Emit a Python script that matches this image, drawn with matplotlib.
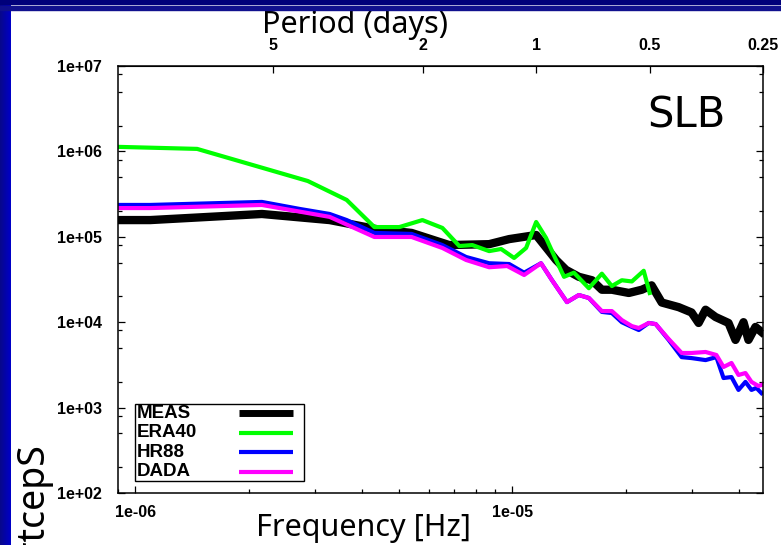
import numpy as np
import matplotlib
matplotlib.use("Agg")
import matplotlib.pyplot as plt
from matplotlib.ticker import LogLocator, FuncFormatter, NullFormatter, NullLocator, FixedLocator, FixedFormatter
from matplotlib.patches import Rectangle
from matplotlib.lines import Line2D
from matplotlib.colors import LinearSegmentedColormap

# ---------------- data (frequency in Hz, spectral value) ----------------
meas_freq = [9.02e-7, 1.096e-6, 2.168e-6, 3.28e-6, 4.37e-6, 5.41e-6, 6.81e-6, 8.69e-6, 9.82e-6,
             1.158e-5, 1.308e-5, 1.390e-5, 1.503e-5, 1.628e-5, 1.730e-5, 1.839e-5, 2.040e-5,
             2.208e-5, 2.344e-5, 2.494e-5, 2.766e-5, 2.992e-5, 3.124e-5, 3.260e-5, 3.465e-5,
             3.750e-5, 3.914e-5, 4.110e-5, 4.236e-5, 4.421e-5, 4.585e-5]
meas_val = [1.57e5, 1.57e5, 1.85e5, 1.57e5, 1.23e5, 1.11e5, 8.0e4, 8.2e4, 9.4e4,
            1.05e5, 5.35e4, 4.1e4, 3.4e4, 3.1e4, 2.4e4, 2.4e4, 2.2e4,
            2.4e4, 2.7e4, 1.7e4, 1.5e4, 1.3e4, 9.8e3, 1.4e4, 1.15e4,
            9.8e3, 6.2e3, 1.0e4, 6.2e3, 8.8e3, 7.7e3]

era40_freq = [9.02e-7, 1.459e-6, 2.18e-6, 2.87e-6, 3.64e-6, 4.31e-6, 5.02e-6, 5.78e-6, 6.53e-6,
              7.24e-6, 7.84e-6, 8.69e-6, 9.35e-6, 1.012e-5, 1.089e-5, 1.158e-5, 1.230e-5,
              1.308e-5, 1.373e-5, 1.459e-5, 1.598e-5, 1.730e-5, 1.839e-5, 1.954e-5, 2.078e-5,
              2.234e-5, 2.317e-5]
era40_val = [1.13e6, 1.07e6, 6.4e5, 4.5e5, 2.7e5, 1.3e5, 1.3e5, 1.57e5, 1.27e5,
             7.8e4, 8.0e4, 6.8e4, 7.2e4, 5.65e4, 7.4e4, 1.49e5, 9.7e4,
             5.35e4, 3.4e4, 3.8e4, 2.5e4, 3.7e4, 2.65e4, 3.1e4, 3.0e4,
             4.0e4, 2.2e4]

hr88_freq = [9.02e-7, 1.096e-6, 2.168e-6, 2.73e-6, 3.28e-6, 3.64e-6, 4.31e-6, 5.41e-6, 6.53e-6,
             7.55e-6, 8.69e-6, 9.82e-6, 1.076e-5, 1.193e-5, 1.276e-5, 1.398e-5, 1.503e-5,
             1.598e-5, 1.730e-5, 1.839e-5, 1.954e-5, 2.078e-5, 2.168e-5, 2.304e-5, 2.404e-5,
             2.602e-5, 2.817e-5, 2.992e-5, 3.260e-5, 3.483e-5, 3.638e-5, 3.819e-5, 3.986e-5,
             4.159e-5, 4.315e-5, 4.447e-5, 4.585e-5]
hr88_val = [2.36e5, 2.36e5, 2.56e5, 2.12e5, 1.85e5, 1.57e5, 1.11e5, 1.08e5, 8.0e4,
            5.8e4, 4.9e4, 4.8e4, 3.8e4, 4.9e4, 3.1e4, 1.72e4, 2.08e4,
            1.92e4, 1.32e4, 1.28e4, 1.0e4, 8.8e3, 8.1e3, 9.8e3, 9.5e3,
            6.2e3, 3.9e3, 3.8e3, 3.6e3, 3.9e3, 2.22e3, 2.28e3, 1.61e3,
            2.0e3, 1.61e3, 1.7e3, 1.48e3]

dada_freq = [9.02e-7, 1.096e-6, 2.168e-6, 3.28e-6, 4.31e-6, 5.41e-6, 6.53e-6, 7.55e-6, 8.69e-6,
             9.70e-6, 1.076e-5, 1.193e-5, 1.276e-5, 1.398e-5, 1.503e-5, 1.598e-5, 1.730e-5,
             1.839e-5, 1.954e-5, 2.078e-5, 2.168e-5, 2.304e-5, 2.404e-5, 2.602e-5, 2.817e-5,
             2.992e-5, 3.260e-5, 3.483e-5, 3.638e-5, 3.819e-5, 3.986e-5, 4.159e-5, 4.315e-5,
             4.502e-5, 4.585e-5]
dada_val = [2.17e5, 2.17e5, 2.36e5, 1.71e5, 9.95e4, 9.95e4, 7.4e4, 5.35e4, 4.4e4,
            4.55e4, 3.57e4, 4.9e4, 3.1e4, 1.72e4, 2.08e4, 1.92e4, 1.35e4,
            1.35e4, 1.06e4, 9.0e3, 8.55e3, 9.8e3, 9.5e3, 6.35e3, 4.36e3,
            4.36e3, 4.48e3, 4.13e3, 2.99e3, 3.33e3, 2.41e3, 2.54e3, 2.0e3,
            1.79e3, 1.84e3]

series_names = ["MEAS", "ERA40", "HR88", "DADA"]
period_ticks = [5, 2, 1, 0.5, 0.25]
period_labels = ["5", "2", "1", "0.5", "0.25"]

# ---------------- figure ----------------
W, H = 781, 545
fig = plt.figure(figsize=(W / 100, H / 100), dpi=100)
fig.patch.set_facecolor("white")

# slide decorations: left blue strip (gradient) and top navy bars
strip = fig.add_axes([0, 0, 11 / W, 1])
grad = np.linspace(0, 1, 32).reshape(1, -1)
cmap = LinearSegmentedColormap.from_list("s", ["#08088a", "#0000c8"])
strip.imshow(grad, aspect="auto", cmap=cmap, extent=[0, 1, 0, 1])
strip.set_axis_off()
fig.add_artist(Rectangle((0, 1 - 4 / H), 1, 4 / H, transform=fig.transFigure,
                         color="#00007a", zorder=5))
fig.add_artist(Rectangle((0, 1 - 10 / H), 1, 4.5 / H, transform=fig.transFigure,
                         color="#10108e", zorder=5))

ax = fig.add_axes([118 / W, 52 / H, 645 / W, 427 / H])
ax.set_xscale("log")
ax.set_yscale("log")
ax.set_xlim(9.0e-7, 4.63e-5)
ax.set_ylim(1e2, 1e7)

ax.plot(meas_freq, meas_val, color="black", lw=6.0, solid_joinstyle="round")
ax.plot(era40_freq, era40_val, color="#00ff00", lw=3.0)
ax.plot(hr88_freq, hr88_val, color="#0000ff", lw=3.0)
ax.plot(dada_freq, dada_val, color="#ff00ff", lw=3.0)

tickfont = {"family": "Liberation Sans", "weight": "bold", "size": 11.5}

ax.xaxis.set_major_locator(LogLocator(base=10, numticks=10))
ax.xaxis.set_minor_locator(LogLocator(base=10, subs=range(2, 10), numticks=20))
ax.xaxis.set_minor_formatter(NullFormatter())
ax.xaxis.set_major_formatter(FuncFormatter(lambda v, p: f"{v:.0e}"))
ax.yaxis.set_major_locator(LogLocator(base=10, numticks=10))
ax.yaxis.set_minor_locator(LogLocator(base=10, subs=[2, 5, 8], numticks=20))
ax.yaxis.set_minor_formatter(NullFormatter())
ax.yaxis.set_major_formatter(FuncFormatter(lambda v, p: f"{v:.0e}"))

ax.tick_params(which="both", direction="in", top=False, right=True, width=0.9, colors="black")
ax.tick_params(which="major", length=5)
ax.tick_params(which="minor", length=3)
ax.tick_params(axis="y", pad=11.5)
ax.tick_params(axis="x", pad=8.5)
for lab in ax.get_xticklabels() + ax.get_yticklabels():
    lab.set_fontfamily(tickfont["family"]); lab.set_fontweight("bold"); lab.set_fontsize(tickfont["size"])
for s in ax.spines.values():
    s.set_linewidth(1.1)


def f2p(f):
    f = np.asarray(f, dtype=float)
    with np.errstate(divide="ignore"):
        return 1.0 / (f * 86400.0)


sec = ax.secondary_xaxis("top", functions=(f2p, f2p))
sec.xaxis.set_major_locator(FixedLocator(period_ticks))
sec.xaxis.set_major_formatter(FixedFormatter(period_labels))
sec.xaxis.set_minor_locator(NullLocator())
sec.tick_params(direction="in", length=5, width=0.9, pad=9)
for lab in sec.get_xticklabels():
    lab.set_fontfamily(tickfont["family"]); lab.set_fontweight("bold"); lab.set_fontsize(tickfont["size"])

fig.text(355 / W, 1 - 25 / H, "Period (days)", ha="center", va="center",
         fontfamily="Noto Sans", fontsize=22)

ax.set_xlabel("Frequency [Hz]", fontfamily="Noto Sans", fontsize=22)
ax.xaxis.set_label_coords((363 - 118) / 645, (545 - 528 - 52) / 427)
ax.xaxis.label.set_va("center")

# partly visible, rotated slide text at lower left (as shown in the reference)
fig.text(32 / W, 1 - 441 / H, "murtcepS", rotation=90, ha="center", va="top",
         fontfamily="Noto Sans", fontsize=27)

ax.text((686 - 118) / 645, 1 - (116 - 66) / 427, "SLB", transform=ax.transAxes,
        ha="center", va="center", fontfamily="DejaVu Sans", fontsize=30)

# legend box (text left, sample line right)
bx0, bx1 = (135 - 118) / 645, (304 - 118) / 645
by0, by1 = 1 - (481 - 66) / 427, 1 - (404 - 66) / 427
ax.add_patch(Rectangle((bx0, by0), bx1 - bx0, by1 - by0, transform=ax.transAxes,
                       facecolor="white", edgecolor="black", lw=1.0, zorder=10))
leg_colors = ["black", "#00ff00", "#0000ff", "#ff00ff"]
leg_lw = [5.0, 3.0, 3.0, 3.0]
leg_y = [413.3, 432.7, 452.3, 471.7]
for name, c, lw, yy in zip(series_names, leg_colors, leg_lw, leg_y):
    yf = 1 - (yy - 66) / 427
    ax.text((137 - 118) / 645, yf, name, transform=ax.transAxes, ha="left", va="center",
            fontfamily="Liberation Sans", fontweight="bold", fontsize=13.5, zorder=11)
    ax.add_line(Line2D([(239 - 118) / 645, (293 - 118) / 645], [yf, yf], transform=ax.transAxes,
                       color=c, lw=lw, zorder=11, solid_capstyle="butt"))

fig.savefig("out.png", dpi=100, facecolor="white")
